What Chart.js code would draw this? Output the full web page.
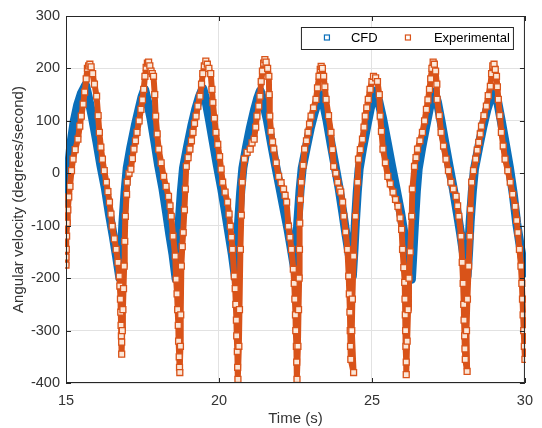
<!DOCTYPE html>
<html lang="en">
<head>
<meta charset="UTF-8">
<title>Angular velocity - CFD vs Experimental</title>
<script src="https://cdn.jsdelivr.net/npm/chart.js"></script>
<style>
  html, body { margin: 0; padding: 0; background: #fff; }
  #wrap { width: 542px; height: 428px; }
</style>
</head>
<body>
<div id="wrap"><canvas id="omegaChart" width="542" height="428"></canvas></div>
<script>
// series names, tick values and samples [time (s), angular velocity (deg/s)]
const seriesNames = ['CFD', 'Experimental'];
const xTicks = [15, 20, 25, 30];
const yTicks = [-400, -300, -200, -100, 0, 100, 200, 300];

const cfdPoints = [
  [15.00,-75],[15.04,-30],[15.09,15],[15.17,60],[15.27,100],[15.38,130],[15.50,152],[15.64,168],
  [15.74,142],[15.86,108],[16.01,60],[16.14,15],[16.29,-30],[16.42,-78],[16.54,-118],[16.65,-158],[16.76,-200],
  [16.81,-150],[16.86,-95],[16.93,-35],[17.00,10],[17.12,50],[17.26,90],[17.38,120],[17.48,145],[17.57,160],
  [17.66,138],[17.78,104],[17.91,58],[18.03,14],[18.17,-30],[18.29,-76],[18.39,-116],[18.50,-156],[18.60,-202],
  [18.65,-150],[18.70,-95],[18.77,-35],[18.84,10],[18.97,50],[19.11,90],[19.24,122],[19.36,146],[19.47,162],
  [19.57,140],[19.68,105],[19.82,58],[19.95,14],[20.09,-30],[20.22,-76],[20.33,-116],[20.44,-156],[20.54,-200],
  [20.59,-150],[20.64,-95],[20.71,-35],[20.78,10],[20.90,50],[21.03,88],[21.15,118],[21.26,142],[21.35,157],
  [21.45,136],[21.58,102],[21.72,56],[21.86,12],[22.00,-30],[22.14,-72],[22.26,-108],[22.37,-146],[22.48,-185],
  [22.53,-140],[22.58,-90],[22.65,-32],[22.72,10],[22.85,48],[22.98,85],[23.11,115],[23.23,138],[23.34,150],
  [23.43,130],[23.54,98],[23.67,54],[23.80,12],[23.93,-30],[24.05,-76],[24.15,-116],[24.26,-156],[24.36,-196],
  [24.41,-148],[24.46,-92],[24.52,-35],[24.58,8],[24.70,50],[24.83,90],[24.94,122],[25.03,145],[25.11,157],
  [25.22,138],[25.35,104],[25.50,58],[25.64,14],[25.79,-30],[25.94,-76],[26.05,-116],[26.17,-158],[26.29,-202],
  [26.34,-150],[26.39,-95],[26.45,-35],[26.51,8],[26.63,50],[26.76,90],[26.87,122],[26.96,145],[27.04,155],
  [27.14,136],[27.25,102],[27.39,56],[27.52,14],[27.66,-30],[27.79,-76],[27.90,-116],[28.00,-156],[28.11,-196],
  [28.16,-148],[28.21,-92],[28.28,-35],[28.35,8],[28.49,50],[28.63,90],[28.76,122],[28.89,146],[29.02,157],
  [29.11,136],[29.22,102],[29.36,56],[29.49,12],[29.62,-40],[29.73,-95],[29.85,-140],[30.00,-190]
];

const expPoints = [
  [15.00,-175],[15.00,-160],[15.01,-145],[15.02,-120],[15.04,-95],[15.06,-70],[15.09,-45],[15.13,-25],
  [15.18,5],[15.23,27],[15.30,45],[15.39,65],[15.45,90],[15.50,109],[15.56,132],[15.61,155],[15.66,180],
  [15.70,200],[15.74,205],[15.78,208],[15.82,203],[15.87,190],[15.93,170],[16.00,147],[16.05,110],[16.09,78],
  [16.14,50],[16.19,27],[16.25,5],[16.32,-17],[16.37,-35],[16.42,-55],[16.47,-78],[16.51,-101],[16.58,-125],
  [16.64,-145],[16.70,-170],[16.74,-196],
  [16.76,-215],[16.78,-240],[16.79,-265],[16.80,-290],[16.81,-310],[16.82,-322],[16.82,-345],[16.84,-300],
  [16.86,-260],[16.88,-220],[16.90,-177],[16.92,-130],[16.94,-82],[16.98,-40],[17.00,-17],[17.06,0],[17.12,8],
  [17.17,28],[17.22,46],[17.27,62],[17.32,78],[17.39,100],[17.45,122],[17.50,140],[17.54,160],[17.58,185],
  [17.62,202],[17.66,210],[17.70,212],[17.74,205],[17.78,195],[17.82,190],[17.86,185],[17.90,150],[17.93,109],
  [17.98,75],[18.03,46],[18.11,20],[18.19,-6],[18.27,-25],[18.35,-44],[18.40,-62],[18.44,-82],[18.50,-120],
  [18.57,-158],[18.60,-202],
  [18.63,-230],[18.65,-260],[18.67,-290],[18.68,-320],[18.70,-350],[18.71,-370],[18.72,-380],[18.74,-330],
  [18.75,-270],[18.77,-177],[18.80,-140],[18.83,-113],[18.87,-70],[18.90,-30],[18.93,13],[18.99,30],[19.05,46],
  [19.10,62],[19.15,78],[19.20,95],[19.25,109],[19.31,128],[19.38,147],[19.43,170],[19.47,190],[19.52,205],
  [19.57,214],[19.62,208],[19.67,200],[19.73,190],[19.77,160],[19.80,135],[19.85,105],[19.90,78],[19.96,55],
  [20.02,32],[20.07,8],[20.12,-17],[20.20,-36],[20.28,-55],[20.33,-78],[20.37,-101],[20.41,-122],[20.44,-145],
  [20.50,-196],
  [20.53,-220],[20.55,-250],[20.57,-280],[20.58,-310],[20.60,-340],[20.61,-370],[20.62,-393],[20.65,-330],
  [20.67,-260],[20.70,-145],[20.73,-80],[20.76,-17],[20.83,27],[20.92,40],[21.02,46],[21.08,58],[21.15,65],
  [21.20,88],[21.24,109],[21.30,128],[21.34,147],[21.38,175],[21.42,195],[21.46,210],[21.50,217],[21.54,212],
  [21.59,200],[21.63,185],[21.64,150],[21.66,109],[21.70,80],[21.75,60],[21.79,46],[21.87,20],[21.95,-6],
  [22.03,-18],[22.11,-30],[22.16,-42],[22.21,-55],[22.27,-101],[22.32,-122],[22.37,-145],[22.43,-183],
  [22.46,-210],[22.48,-240],[22.50,-270],[22.51,-300],[22.53,-330],[22.54,-360],[22.55,-393],[22.58,-330],
  [22.60,-260],[22.62,-200],[22.63,-145],[22.64,-95],[22.66,-50],[22.69,-17],[22.75,15],[22.80,46],[22.86,62],
  [22.91,78],[22.96,94],[23.01,109],[23.09,125],[23.17,141],[23.22,163],[23.27,185],[23.31,198],[23.34,204],
  [23.38,200],[23.42,185],[23.46,165],[23.50,141],[23.58,110],[23.66,78],[23.71,45],[23.75,13],[23.82,0],
  [23.88,-17],[23.94,-30],[23.98,-36],[24.04,-55],[24.08,-82],[24.14,-112],[24.20,-145],[24.24,-196],
  [24.26,-230],[24.28,-265],[24.29,-300],[24.30,-330],[24.31,-355],[24.40,-380],[24.34,-300],[24.36,-240],
  [24.40,-158],[24.46,-82],[24.53,-17],[24.56,27],[24.62,45],[24.69,65],[24.74,88],[24.78,109],[24.83,125],
  [24.88,141],[24.94,160],[25.00,175],[25.05,185],[25.12,182],[25.18,175],[25.24,150],[25.27,109],[25.31,80],
  [25.36,46],[25.44,20],[25.52,-6],[25.60,-20],[25.69,-36],[25.77,-50],[25.85,-63],[25.92,-85],[25.97,-107],
  [26.00,-145],[26.04,-180],[26.07,-208],
  [26.08,-240],[26.09,-270],[26.10,-300],[26.11,-330],[26.12,-360],[26.12,-384],[26.15,-320],[26.18,-260],
  [26.21,-200],[26.25,-150],[26.30,-82],[26.32,-30],[26.39,13],[26.44,30],[26.49,46],[26.57,62],[26.65,78],
  [26.72,100],[26.78,122],[26.83,140],[26.88,160],[26.92,180],[26.96,200],[27.00,212],[27.04,208],[27.08,195],
  [27.12,170],[27.13,141],[27.20,110],[27.26,78],[27.34,52],[27.42,27],[27.50,5],[27.58,-17],[27.66,-30],
  [27.75,-44],[27.80,-62],[27.84,-82],[27.91,-120],[27.95,-170],
  [27.98,-210],[28.00,-250],[28.01,-280],[28.03,-310],[28.04,-335],[28.05,-355],[28.11,-378],[28.09,-300],
  [28.12,-240],[28.16,-177],[28.20,-120],[28.22,-69],[28.26,-17],[28.32,5],[28.39,27],[28.44,44],[28.49,59],
  [28.54,75],[28.58,90],[28.66,110],[28.74,128],[28.80,148],[28.87,166],[28.91,190],[28.95,205],[28.99,208],
  [29.03,198],[29.07,185],[29.10,165],[29.13,141],[29.18,110],[29.23,78],[29.29,52],[29.35,27],[29.44,5],
  [29.52,-17],[29.60,-40],[29.68,-63],[29.73,-90],[29.77,-113],[29.82,-145],[29.87,-177],
  [29.90,-210],[29.92,-240],[29.94,-270],[29.96,-300],[29.98,-330],[30.00,-355]
];

const cfdColor = '#0b6fba';
const expColor = '#d95319';
const fontFamily = '"Liberation Sans", Arial, Helvetica, sans-serif';
const axisColor = '#262626';

// box around the axes, inward tick marks and the legend inside the plot
const axesFrame = {
  id: 'axesFrame',
  afterDatasetsDraw(chart) {
    const { ctx, chartArea: a, scales } = chart;
    ctx.save();
    ctx.strokeStyle = axisColor;
    ctx.lineWidth = 1;
    ctx.strokeRect(a.left + 0.5, a.top + 0.5, a.right - a.left - 1, a.bottom - a.top - 1);

    ctx.beginPath();
    xTicks.forEach(v => {
      const x = Math.round(scales.x.getPixelForValue(v)) + 0.5;
      ctx.moveTo(x, a.bottom); ctx.lineTo(x, a.bottom - 5);
      ctx.moveTo(x, a.top); ctx.lineTo(x, a.top + 5);
    });
    yTicks.forEach(v => {
      const y = Math.round(scales.y.getPixelForValue(v)) + 0.5;
      ctx.moveTo(a.left, y); ctx.lineTo(a.left + 5, y);
      ctx.moveTo(a.right, y); ctx.lineTo(a.right - 5, y);
    });
    ctx.stroke();

    // legend
    const bx = a.right - 224, by = a.top + 11, bw = 212, bh = 22;
    ctx.fillStyle = '#fff';
    ctx.fillRect(bx, by, bw, bh);
    ctx.strokeRect(bx + 0.5, by + 0.5, bw, bh);
    const cy = by + bh / 2;
    const items = [
      { name: seriesNames[0], color: cfdColor, mx: bx + 26, tx: bx + 50 },
      { name: seriesNames[1], color: expColor, mx: bx + 107, tx: bx + 133 }
    ];
    ctx.font = '13px ' + fontFamily;
    ctx.textBaseline = 'middle';
    items.forEach(it => {
      ctx.strokeStyle = it.color;
      ctx.lineWidth = 1.2;
      ctx.strokeRect(it.mx - 2.5, cy - 3, 5, 5);
      ctx.fillStyle = '#000';
      ctx.fillText(it.name, it.tx, cy);
    });
    ctx.restore();
  }
};

const toXY = pts => pts.map(p => ({ x: p[0], y: p[1] }));

new Chart(document.getElementById('omegaChart'), {
  type: 'scatter',
  data: {
    datasets: [{
      label: seriesNames[0],
      data: toXY(cfdPoints),
      showLine: true,
      tension: 0,
      borderColor: cfdColor,
      borderWidth: 9,
      borderJoinStyle: 'round',
      borderCapStyle: 'round',
      pointStyle: 'rect',
      pointRadius: 4,
      pointBorderWidth: 1,
      pointBorderColor: cfdColor,
      pointBackgroundColor: cfdColor,
      order: 2,
      clip: 1
    }, {
      label: seriesNames[1],
      data: toXY(expPoints),
      showLine: true,
      tension: 0,
      borderColor: expColor,
      borderWidth: 6,
      borderJoinStyle: 'round',
      borderCapStyle: 'round',
      pointStyle: 'rect',
      pointRadius: 4.2,
      pointBorderWidth: 1.3,
      pointBorderColor: expColor,
      pointBackgroundColor: 'rgba(253,238,226,0.95)',
      order: 1,
      clip: 1
    }]
  },
  options: {
    responsive: false,
    animation: false,
    devicePixelRatio: 1,
    layout: { padding: { left: 10, top: 16, right: 10, bottom: 0 } },
    plugins: { legend: { display: false }, tooltip: { enabled: false } },
    scales: {
      x: {
        type: 'linear',
        min: 15,
        max: 30,
        afterBuildTicks: s => { s.ticks = xTicks.map(v => ({ value: v })); },
        afterFit: s => { s.height = 45; },
        grid: { color: '#e2e2e2', drawTicks: false },
        border: { display: false },
        ticks: { color: '#333', padding: 9, font: { family: fontFamily, size: 14.5 } },
        title: {
          display: true,
          text: 'Time (s)',
          color: '#333',
          padding: 0,
          font: { family: fontFamily, size: 15 }
        }
      },
      y: {
        min: -400,
        max: 300,
        afterBuildTicks: s => { s.ticks = yTicks.map(v => ({ value: v })); },
        afterFit: s => { s.width = 56; },
        grid: { color: '#e2e2e2', drawTicks: false },
        border: { display: false },
        ticks: { color: '#333', padding: 6, font: { family: fontFamily, size: 14.5 } },
        title: {
          display: true,
          text: 'Angular velocity (degrees/second)',
          color: '#333',
          padding: 0,
          font: { family: fontFamily, size: 15 }
        }
      }
    }
  },
  plugins: [axesFrame]
});
</script>
</body>
</html>
